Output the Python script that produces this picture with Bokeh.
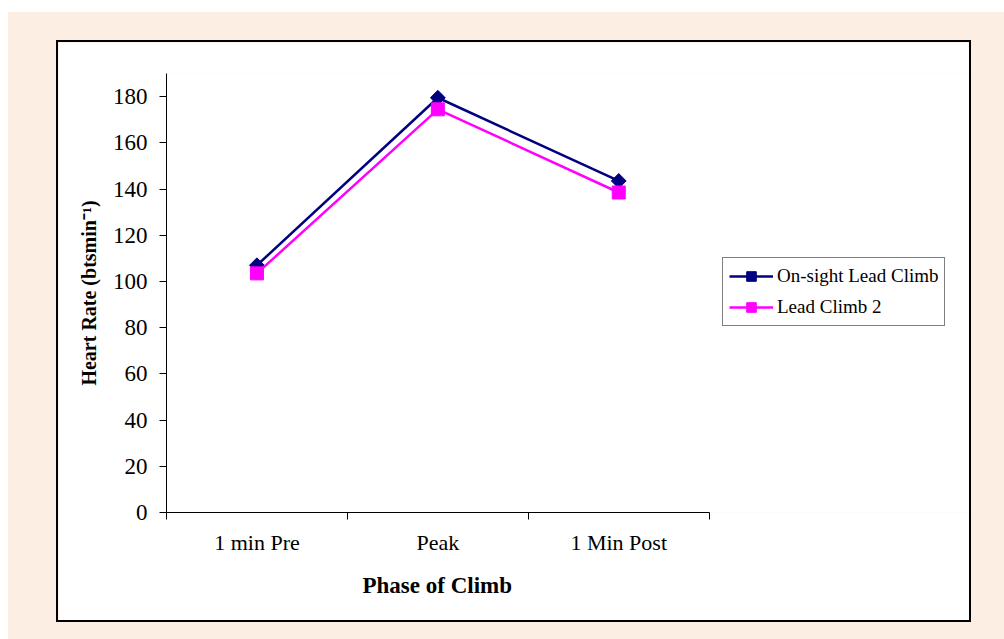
from bokeh.plotting import figure
from bokeh.models import Range1d, FixedTicker, Legend, LegendItem, ColumnDataSource, Title
from bokeh.layouts import column
from bokeh.embed import file_html
from bokeh.resources import INLINE
import math

categories = ["1 min Pre", "Peak", "1 Min Post"]
onsight_lead = [107, 179.5, 143.5]
lead_climb_2 = [103.5, 174.5, 138.5]
y_ticks = [0, 20, 40, 60, 80, 100, 120, 140, 160, 180]

FONT = "Liberation Serif"
PEACH = "#FDEEE4"

n = len(categories)
xpos = [i + 0.5 for i in range(n)]
src = ColumnDataSource(dict(x=xpos, a=onsight_lead, b=lead_climb_2))

CAT_PX = 180          # pixel width of one category band
FRAME_W = 803         # frame spans the axis area plus the legend area to the right

p = figure(frame_width=FRAME_W, frame_height=435,
           x_range=Range1d(0, FRAME_W / CAT_PX), y_range=Range1d(0, 190),
           output_backend="svg", toolbar_location=None,
           min_border_left=108, min_border_top=31, min_border_right=0, min_border_bottom=112,
           background_fill_color="white", border_fill_color="white", outline_line_color=None,
           styles={"border": "2px solid black"})
p.xgrid.visible = False
p.ygrid.visible = False

la = p.line("x", "a", source=src, line_color="#000080", line_width=2.5)
sa = p.scatter("x", "a", source=src, marker="square", angle=math.pi / 4, size=10.5,
               fill_color="#000080", line_color="#000080")
lb = p.line("x", "b", source=src, line_color="#FF00FF", line_width=2.5)
sb = p.scatter("x", "b", source=src, marker="square", size=13,
               fill_color="#FF00FF", line_color="#FF00FF")

xa = p.xaxis[0]
xa.bounds = (0, n)
xa.ticker = FixedTicker(ticks=xpos, minor_ticks=list(range(n + 1)))
xa.major_label_overrides = {x: c for x, c in zip(xpos, categories)}
xa.major_tick_line_color = None
xa.major_tick_out = 7
xa.major_tick_in = 0
xa.minor_tick_out = 7
xa.minor_tick_in = 0
xa.minor_tick_line_color = "black"
xa.axis_line_color = "black"
xa.major_label_text_font = FONT
xa.major_label_text_font_size = "22px"
xa.major_label_text_color = "black"
xa.major_label_standoff = 10

# x-axis title, centred under the three categories (not under the wider frame)
xtitle = Title(text="Phase of Climb", align="left", offset=196, standoff=26,
               text_font=FONT, text_font_size="23px", text_font_style="bold",
               text_color="black")
p.add_layout(xtitle, "below")

ya = p.yaxis[0]
ya.ticker = FixedTicker(ticks=y_ticks)
ya.minor_tick_line_color = None
ya.major_tick_out = 7
ya.major_tick_in = 0
ya.major_tick_line_color = "black"
ya.axis_line_color = "black"
ya.major_label_text_font = FONT
ya.major_label_text_font_size = "23px"
ya.major_label_text_color = "black"
ya.major_label_standoff = 12
ya.axis_label = "Heart Rate (btsmin\u207b\u00b9)"
ya.axis_label_text_font = FONT
ya.axis_label_text_font_size = "20px"
ya.axis_label_text_font_style = "bold"
ya.axis_label_text_color = "black"
ya.axis_label_standoff = 10

legend = Legend(items=[LegendItem(label="On-sight Lead Climb", renderers=[la, sa]),
                       LegendItem(label="Lead Climb 2", renderers=[lb, sb])],
                location=(556, 186))
legend.border_line_color = "black"
legend.border_line_width = 1
legend.background_fill_color = "white"
legend.background_fill_alpha = 1
legend.label_text_font = FONT
legend.label_text_font_size = "19px"
legend.label_text_color = "black"
legend.glyph_width = 44
legend.glyph_height = 24
legend.spacing = 7
legend.padding = 6
legend.label_standoff = 4
legend.margin = 0
p.add_layout(legend, "center")

inner = column(p, styles={"background-color": PEACH, "padding": "28px 33px 17px 48px"})
root = column(inner, styles={"background-color": "white", "padding": "12px 0px 0px 8px"})

open("out.html", "w").write(file_html(root, INLINE))
